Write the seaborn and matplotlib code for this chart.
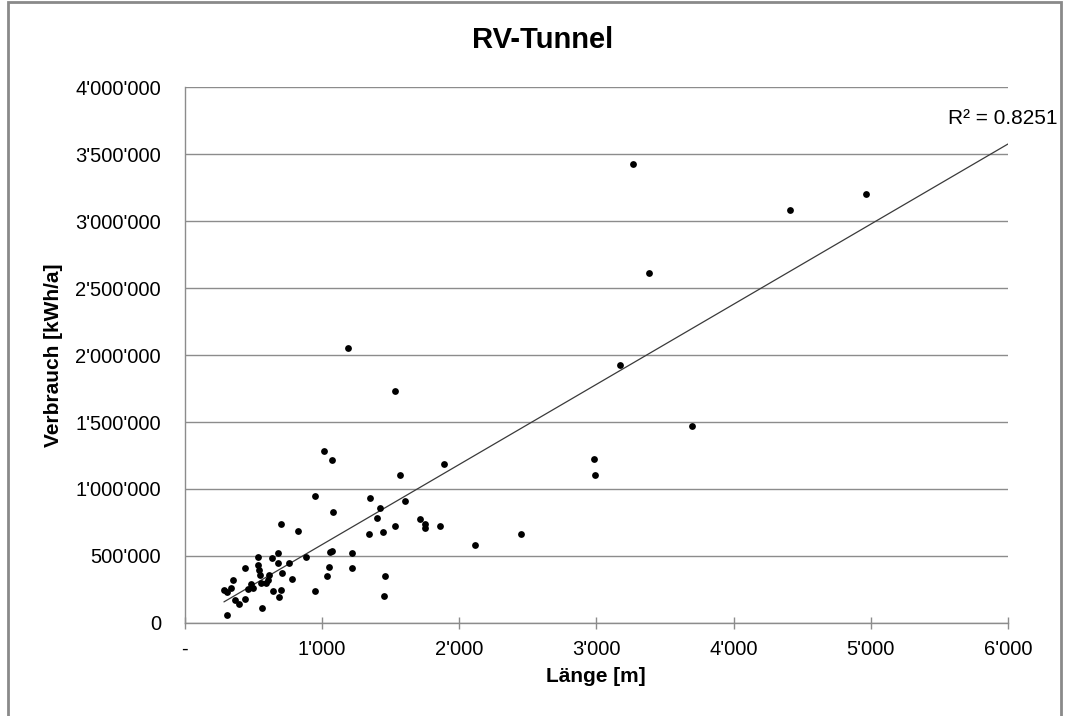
import numpy as np
import pandas as pd
import matplotlib
matplotlib.use("Agg")
import matplotlib.pyplot as plt
from matplotlib.patches import Rectangle
import seaborn as sns

# Tunnel length [m]
laenge = [1189, 1534, 1016, 1072, 1570, 1894, 953, 1351, 1422, 1604,
          1079, 1400, 1719, 1752, 1752, 1859, 1534, 1446, 1344, 703,
          827, 1220, 1060, 1077, 1220, 1055, 1038, 1464, 1453, 953,
          888, 533, 635, 683, 683, 761, 533, 441, 545, 550,
          618, 708, 781, 353, 560, 596, 608, 487, 462, 499,
          287, 312, 341, 644, 705, 688, 370, 438, 394, 564,
          312, 3173, 3698, 2987, 2994, 2117, 2448, 3268, 4409, 4962,
          3385]
# Consumption [kWh/a]
verbrauch = [2052000, 1731000, 1281000, 1216000, 1104000, 1183000, 951000, 935000, 860000, 911000,
             830000, 781000, 773000, 738000, 710000, 725000, 725000, 676000, 661000, 736000,
             686000, 518000, 528000, 533000, 413000, 420000, 348000, 348000, 203000, 235000,
             493000, 493000, 485000, 518000, 450000, 443000, 435000, 413000, 393000, 360000,
             360000, 372000, 330000, 323000, 299000, 300000, 318000, 288000, 255000, 263000,
             243000, 230000, 263000, 235000, 243000, 192000, 173000, 180000, 137000, 113000,
             60000, 1924000, 1474000, 1224000, 1104000, 580000, 661000, 3428000, 3083000, 3203000,
             2617000]

x_ticks = [0, 1000, 2000, 3000, 4000, 5000, 6000]
x_ticklabels = ["-", "1'000", "2'000", "3'000", "4'000", "5'000", "6'000"]
y_ticks = [0, 500000, 1000000, 1500000, 2000000, 2500000, 3000000, 3500000, 4000000]
y_ticklabels = ["0", "500'000", "1'000'000", "1'500'000", "2'000'000",
                "2'500'000", "3'000'000", "3'500'000", "4'000'000"]
title = "RV-Tunnel"
x_label = "Länge [m]"
y_label = "Verbrauch [kWh/a]"
r2_text = "R² = 0.8251"

sns.set_theme(style="white")
plt.rcParams['font.family'] = ['Liberation Sans', 'DejaVu Sans']
plt.rcParams['text.color'] = 'black'
plt.rcParams['axes.labelcolor'] = 'black'
plt.rcParams['xtick.color'] = 'black'
plt.rcParams['ytick.color'] = 'black'

df = pd.DataFrame({"Länge": laenge, "Verbrauch": verbrauch})

fig = plt.figure(figsize=(10.68, 7.16), dpi=100)
ax = fig.add_axes([0.1728, 0.1302, 0.7710, 0.7476])

# gridlines
ax.set_axisbelow(True)
ax.yaxis.grid(True, color="#8c8c8c", linewidth=1.0)
ax.xaxis.grid(False)

# linear trend line (fitted from the data), drawn from min x to 6000
slope, intercept = np.polyfit(df["Länge"], df["Verbrauch"], 1)
trend = pd.DataFrame({"x": [min(laenge), x_ticks[-1]]})
trend["y"] = slope * trend["x"] + intercept
sns.lineplot(data=trend, x="x", y="y", ax=ax, color="#3a3a3a", linewidth=0.9)

sns.scatterplot(data=df, x="Länge", y="Verbrauch", ax=ax, color="black",
                s=24, linewidth=0, zorder=3)

ax.set_xlim(x_ticks[0], x_ticks[-1])
ax.set_ylim(y_ticks[0], y_ticks[-1])
ax.set_xticks(x_ticks)
ax.set_xticklabels(x_ticklabels, fontsize=14.5, color="black")
ax.set_yticks(y_ticks)
ax.set_yticklabels(y_ticklabels, fontsize=14.5, color="black")

ax.tick_params(axis="x", direction="inout", length=9, width=1.0, color="#8c8c8c",
               pad=8, bottom=True, labelcolor="black")
ax.tick_params(axis="y", length=0, pad=17, labelcolor="black")

for side in ["top", "right"]:
    ax.spines[side].set_visible(False)
for side in ["left", "bottom"]:
    ax.spines[side].set_color("#8c8c8c")
    ax.spines[side].set_linewidth(1.0)

ax.set_xlabel(x_label, fontsize=15, fontweight="bold", labelpad=6, color="black")
ax.set_ylabel(y_label, fontsize=15, fontweight="bold", labelpad=2, color="black")
ax.yaxis.set_label_coords(-0.148, 0.5)

fig.text(0.508, 0.944, title, ha="center", va="center", fontsize=21,
         fontweight="bold", color="black")
fig.text(1058 / 1068, 1 - 118 / 716, r2_text, ha="right", va="center",
         fontsize=15, color="black")

# chart border
fig.patches.append(Rectangle((8 / 1068, -0.01), (1061 - 8) / 1068, 1.01 - 1.5 / 716,
                             transform=fig.transFigure, fill=False,
                             edgecolor="#8a8a8a", linewidth=2.0))

fig.savefig("out.png", dpi=100)
